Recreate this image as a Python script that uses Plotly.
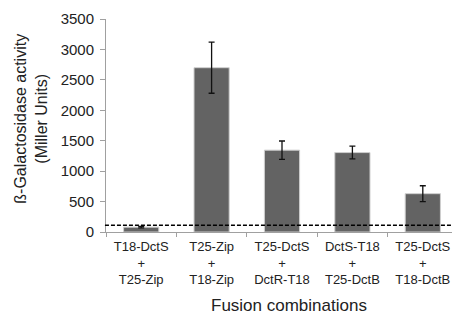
import plotly.graph_objects as go

categories = ["T18-DctS<br>+<br>T25-Zip", "T25-Zip<br>+<br>T18-Zip", "T25-DctS<br>+<br>DctR-T18",
              "DctS-T18<br>+<br>T25-DctB", "T25-DctS<br>+<br>T18-DctB"]
activity = [80, 2700, 1345, 1305, 630]
errors = [12, 420, 150, 105, 130]
threshold = 110
y_ticks = [0, 500, 1000, 1500, 2000, 2500, 3000, 3500]

FONT = "Liberation Sans, Arial, sans-serif"

fig = go.Figure()
fig.add_trace(go.Bar(
    x=categories, y=activity,
    marker=dict(color="#636363", line=dict(color="#cfcfcf", width=1)),
    width=0.5,
    error_y=dict(type="data", array=errors, color="#111111", thickness=1.3, width=3),
))
fig.add_shape(type="line", xref="paper", yref="y", x0=-0.003, x1=0.99, y0=threshold, y1=threshold,
              line=dict(color="black", width=1.6, dash="4px,2px"))
fig.add_annotation(text="Fusion combinations", xref="paper", yref="paper", x=0.52, y=-0.347,
                   xanchor="center", yanchor="middle", showarrow=False,
                   font=dict(size=17, family=FONT, color="#222222"))
fig.add_annotation(text="ß-Galactosidase activity<br>(Miller Units)", xref="paper", yref="paper",
                   x=-0.213, y=0.532, xanchor="center", yanchor="middle", showarrow=False,
                   textangle=-90, font=dict(size=16, family=FONT, color="#222222"))

# page body has an 8px margin; size the figure so it fills the 460x320 window
fig.update_layout(
    width=452, height=312,
    margin=dict(l=98, r=2, t=6, b=88),
    paper_bgcolor="white", plot_bgcolor="white",
    showlegend=False,
    font=dict(family=FONT, color="#222222"),
    bargap=0.5,
)
fig.update_yaxes(
    range=[0, 3500], tickvals=y_ticks, ticks="outside", ticklen=5, tickcolor="#a0a0a0",
    showline=True, linecolor="#a0a0a0", linewidth=1, showgrid=False, zeroline=False,
    tickfont=dict(size=15, family=FONT, color="#222222"),
    ticklabeloverflow="allow", ticklabelstandoff=3,
)
fig.update_xaxes(
    ticks="outside", tickson="boundaries", ticklen=4, tickcolor="#a0a0a0",
    showline=True, linecolor="#a0a0a0", linewidth=1,
    tickfont=dict(size=13, family=FONT, color="#222222"),
    ticklabelstandoff=2,
)

fig.write_html("out.html")
